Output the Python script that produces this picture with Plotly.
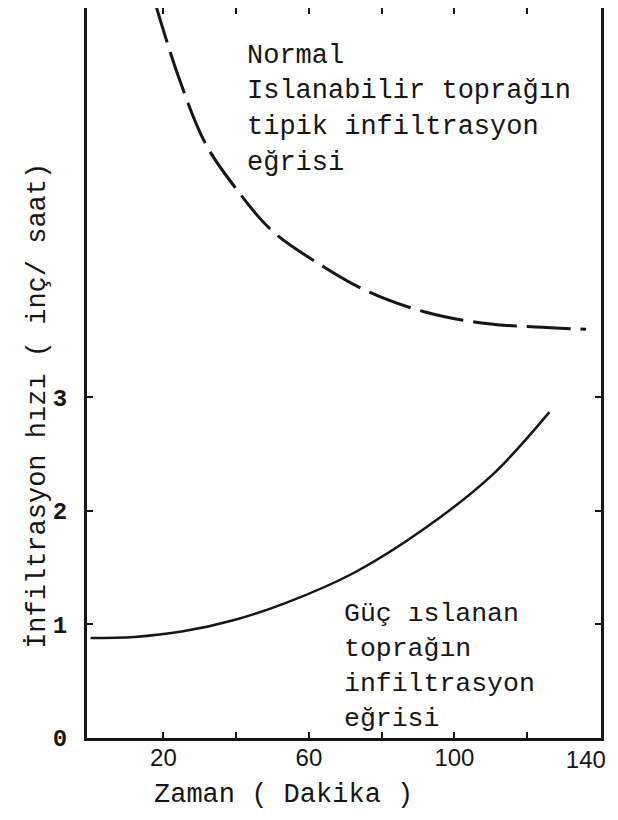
import plotly.graph_objects as go

# Data
normal_x = [17.5, 24.2, 31.5, 39.7, 49.8, 62.6, 76.4, 92.2, 108.7, 122.4, 136.2]
normal_y = [6.50, 5.82, 5.24, 4.85, 4.47, 4.18, 3.93, 3.75, 3.65, 3.62, 3.60]

hard_x = [0, 12, 25.4, 39.5, 53.7, 72.7, 91.6, 110.5, 126.1]
hard_y = [0.88, 0.89, 0.94, 1.04, 1.19, 1.46, 1.84, 2.32, 2.87]

x_tick_vals = [20, 40, 60, 80, 100, 120]
x_tick_text = ["20", "", "60", "", "100", ""]
x_end_val = [140]
x_end_text = ["140"]
y_tick_vals = [0, 1, 2, 3]
y_tick_text = ["0", "1", "2", "3"]

upper_label = ["Normal", "Islanabilir toprağın", "tipik infiltrasyon", "eğrisi"]
lower_label = ["Güç ıslanan", "toprağın", "infiltrasyon", "eğrisi"]
x_title = "Zaman ( Dakika )"
y_title = "İnfiltrasyon hızı ( inç/ saat)"

INK = "#161616"
MONO = "Liberation Mono"
X_RANGE = [-1, 140.3]

fig = go.Figure()
fig.add_trace(go.Scatter(x=normal_x, y=normal_y, mode="lines", line_shape="spline",
                         line=dict(color=INK, width=3, dash="44px,10px"),
                         showlegend=False, hoverinfo="skip"))
fig.add_trace(go.Scatter(x=hard_x, y=hard_y, mode="lines", line_shape="spline",
                         line=dict(color=INK, width=2.5),
                         showlegend=False, hoverinfo="skip"))
# invisible helper trace so the overlay axis carrying the "140" label is drawn
fig.add_trace(go.Scatter(x=x_end_val, y=[0], xaxis="x2", mode="markers",
                         marker=dict(opacity=0), showlegend=False, hoverinfo="skip"))

# upper text block
for i, t in enumerate(upper_label):
    fig.add_annotation(x=42.3, y=6.01 - i * 0.315, xref="x", yref="y", text=t,
                       showarrow=False, xanchor="left", yanchor="middle",
                       font=dict(family=MONO, size=27, color=INK))
# lower text block
for i, t in enumerate(lower_label):
    fig.add_annotation(x=69.0, y=1.09 - i * 0.307, xref="x", yref="y", text=t,
                       showarrow=False, xanchor="left", yanchor="middle",
                       font=dict(family=MONO, size=26.5, color=INK))

fig.add_annotation(x=0.383, y=-0.078, xref="paper", yref="paper", text=x_title,
                   showarrow=False, xanchor="center", yanchor="middle",
                   font=dict(family=MONO, size=27, color=INK))
fig.add_annotation(x=-0.0953, y=0.455, xref="paper", yref="paper", text=y_title,
                   textangle=-90, showarrow=False, xanchor="center", yanchor="middle",
                   font=dict(family=MONO, size=27, color=INK))

fig.update_layout(
    xaxis=dict(range=X_RANGE, tickvals=x_tick_vals, ticktext=x_tick_text,
               ticks="inside", ticklen=6, tickwidth=2, tickcolor=INK,
               showline=True, linewidth=3, linecolor=INK, mirror="ticks",
               showgrid=False, zeroline=False, automargin=False,
               ticklabelstandoff=-4,
               tickfont=dict(family="Liberation Sans", size=24, color=INK)),
    xaxis2=dict(range=X_RANGE, overlaying="x", anchor="y", side="bottom",
                tickvals=x_end_val, ticktext=x_end_text, ticks="",
                ticklabelposition="outside left", ticklabelshift=6,
                ticklabelstandoff=5,
                showline=False, showgrid=False, zeroline=False, automargin=False,
                tickfont=dict(family="Liberation Sans", size=24, color=INK)),
    yaxis=dict(range=[0, 6.43], tickvals=y_tick_vals, ticktext=y_tick_text,
               ticks="inside", ticklen=6, tickwidth=2, tickcolor=INK,
               showline=True, linewidth=3, linecolor=INK, mirror="ticks",
               showgrid=False, zeroline=False, automargin=False,
               ticklabelstandoff=12,
               tickfont=dict(family=MONO, size=24, color=INK, weight="bold")),
    # the page body adds an 8px offset; size and margins compensate for it
    width=602, height=804,
    margin=dict(l=79, r=9, t=0, b=74),
    paper_bgcolor="white", plot_bgcolor="white",
)

fig.write_html("out.html")
